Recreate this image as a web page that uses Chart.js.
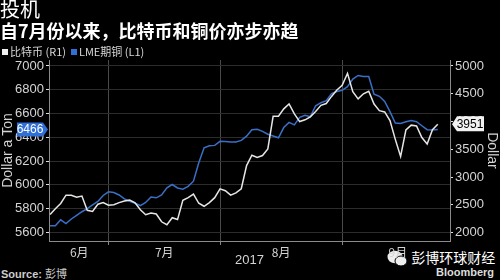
<!DOCTYPE html>
<html>
<head>
<meta charset="utf-8">
<script src="https://cdn.jsdelivr.net/npm/chart.js@4.4.0/dist/chart.umd.min.js"></script>
<style>
  html, body { margin: 0; padding: 0; background: #000; }
  #wrap { position: relative; width: 500px; height: 280px; overflow: hidden; background: #000; color: #fff; }
  #wrap canvas { position: absolute; left: 0; top: 0; }
  .cjk { font-family: "Noto Sans CJK SC", sans-serif; }
  .title { position: absolute; left: 0; top: -3px; font-size: 20px; line-height: 24px; }
  .subtitle { position: absolute; left: 0; top: 19px; font-size: 18px; line-height: 22px; font-weight: 700; white-space: nowrap; }
  .legend { position: absolute; left: 2px; top: 43px; font-size: 11px; line-height: 16px; color: #d8d8d8; white-space: nowrap; }
  .legend i { display: inline-block; width: 6px; height: 6px; margin-right: 2px; vertical-align: 1px; }
  .src { position: absolute; left: 1px; top: 265px; font: 11px "Liberation Sans", sans-serif; color: #ccc; }
  .wm { position: absolute; left: 387px; top: 248px; font-size: 14px; line-height: 18px; white-space: nowrap; }
  .bbg { position: absolute; left: 436px; top: 266px; font: bold 11px "Liberation Sans", sans-serif; color: #ddd; }
</style>
</head>
<body>
<div id="wrap">
  <div class="src"><b>Source:</b> <span class="cjk">彭博</span></div>
  <div class="wm cjk">
    <svg width="21" height="17" viewBox="0 0 21 17" style="vertical-align:-4px">
      <ellipse cx="8" cy="7" rx="7.5" ry="6.2" fill="#eee"/>
      <ellipse cx="14" cy="11" rx="6" ry="5" fill="#eee" stroke="#000" stroke-width="1"/>
    </svg> 彭博环球财经
  </div>
  <div class="bbg">Bloomberg <span style="display:inline-block;width:8px;height:8px;background:#bbb;vertical-align:-1px"></span></div>
  <canvas id="chart" width="500" height="280"></canvas>
  <div class="title cjk">投机</div>
  <div class="subtitle cjk">自7月份以来，比特币和铜价亦步亦趋</div>
  <div class="legend cjk"><i style="background:#f0f0f0"></i>比特币 (R1)&nbsp;&nbsp;<i style="background:#2f6fd6"></i>LME期铜 (L1)</div>
</div>
<script>
// trading days, mid-June to late September 2017
const days = Array.from({ length: 74 }, (_, i) => i);

// LME copper, $/t (left axis)
const copper = [
  5657, 5657, 5706, 5675, 5713, 5743, 5774, 5800, 5831, 5861, 5911,
  5942, 5936, 5915, 5882, 5862, 5845, 5826, 5852, 5898, 5891, 5915, 5975, 6003, 5974, 5964, 5988, 6031, 6186, 6312, 6328,
  6332, 6366, 6364, 6361, 6361, 6374, 6410, 6463, 6467, 6450, 6426, 6411, 6396, 6482, 6525, 6505, 6568, 6585, 6572, 6665, 6691, 6708, 6768,
  6785, 6795, 6826, 6889, 6920, 6912, 6912, 6763, 6745, 6702, 6616, 6520, 6516, 6531, 6541, 6531, 6497, 6464, 6462, 6466
];

// Bitcoin, $ (right axis)
const bitcoin = [
  2325, 2428, 2523, 2673, 2671, 2637, 2657, 2400, 2379, 2509, 2539,
  2491, 2502, 2538, 2568, 2583, 2534, 2411, 2321, 2350, 2334, 2193, 2141, 2267, 2233, 2579, 2630, 2693, 2527, 2473, 2538,
  2628, 2787, 2752, 2673, 2713, 2788, 3205, 3393, 3353, 3387, 3506, 4094, 4096, 4228, 4315, 4138, 3999, 4031, 4085, 4179, 4291, 4324, 4452,
  4569, 4654, 4868, 4536, 4407, 4499, 4544, 4315, 4196, 4172, 4015, 3678, 3371, 3849, 3934, 3921, 3712, 3595, 3851, 3951
];

const monthEdges = [11, 32, 55];
const monthCenters = [5.5, 21.5, 43.5, 65.5];
const monthLabels = ['6月', '7月', '8月', '9月'];
const leftTicks = [5600, 5800, 6000, 6200, 6400, 6600, 6800, 7000];
const rightTicks = [2000, 2500, 3000, 3500, 4000, 4500, 5000];

const BLUE = '#3a6fc6';
const WHITE = '#e6e6e6';
const TICK_TXT = '#d4d4d4';
const latin = '"Liberation Sans", Arial, sans-serif';

// last-value tags on both axes
const lastValueTags = {
  id: 'lastValueTags',
  afterDraw(chart) {
    const c = chart.ctx;
    const yl = chart.scales.y, yr = chart.scales.y1;
    const cv = copper[copper.length - 1];
    const bv = bitcoin[bitcoin.length - 1];
    c.save();
    c.font = '12px ' + latin;
    c.textBaseline = 'middle';
    c.textAlign = 'center';

    let y = yl.getPixelForValue(cv);
    c.fillStyle = '#2f6fd6';
    c.beginPath();
    c.moveTo(17, y - 7); c.lineTo(43, y - 7); c.lineTo(48, y);
    c.lineTo(43, y + 7); c.lineTo(17, y + 7); c.closePath();
    c.fill();
    c.fillStyle = '#fff';
    c.fillText(String(cv), 30, y + 0.5);

    y = yr.getPixelForValue(bv);
    c.fillStyle = '#f2f2f2';
    c.beginPath();
    c.moveTo(452, y); c.lineTo(457, y - 8); c.lineTo(484, y - 8);
    c.lineTo(484, y + 7); c.lineTo(457, y + 7); c.closePath();
    c.fill();
    c.fillStyle = '#000';
    c.fillText(String(bv), 470, y + 0.5);
    c.restore();
  }
};

new Chart(document.getElementById('chart'), {
  type: 'line',
  data: {
    datasets: [
      {
        label: '比特币 (R1)',
        data: bitcoin.map((v, i) => ({ x: days[i], y: v })),
        yAxisID: 'y1',
        borderColor: WHITE,
        borderWidth: 1.5,
        pointRadius: 0,
        tension: 0
      },
      {
        label: 'LME期铜 (L1)',
        data: copper.map((v, i) => ({ x: days[i], y: v })),
        yAxisID: 'y',
        borderColor: BLUE,
        borderWidth: 1.5,
        pointRadius: 0,
        tension: 0
      }
    ]
  },
  options: {
    responsive: false,
    animation: false,
    layout: { padding: { top: 60, left: 0, right: 0, bottom: 0 } },
    plugins: { legend: { display: false }, tooltip: { enabled: false } },
    scales: {
      x: {
        type: 'linear',
        min: -0.2,
        max: 75.3,
        afterBuildTicks: s => { s.ticks = [...monthEdges, ...monthCenters].sort((a, b) => a - b).map(v => ({ value: v })); },
        afterFit: s => { s.height = 39; },
        grid: {
          color: ctx => monthEdges.includes(ctx.tick && ctx.tick.value) ? '#4a4a4a' : 'rgba(0,0,0,0)',
          tickColor: ctx => monthEdges.includes(ctx.tick && ctx.tick.value) ? '#888' : 'rgba(0,0,0,0)',
          tickLength: 4
        },
        border: { color: '#8a8a8a' },
        ticks: {
          autoSkip: false,
          maxRotation: 0,
          padding: 0,
          color: TICK_TXT,
          font: { family: '"Noto Sans CJK SC", sans-serif', size: 12 },
          callback: v => { const k = monthCenters.indexOf(v); return k >= 0 ? monthLabels[k] : ''; }
        },
        title: { display: true, text: '2017', color: TICK_TXT, font: { family: latin, size: 13 }, padding: { top: 0, bottom: 12 } }
      },
      y: {
        position: 'left',
        min: 5528,
        max: 7050,
        afterBuildTicks: s => { s.ticks = leftTicks.map(v => ({ value: v })); },
        afterFit: s => { s.width = 49; },
        grid: { color: '#2c2c2c', tickColor: '#e0e0e0', tickLength: 3 },
        border: { color: '#8a8a8a' },
        ticks: { color: TICK_TXT, font: { family: latin, size: 13 }, padding: 2, callback: v => String(v) },
        title: { display: true, text: 'Dollar a Ton', color: TICK_TXT, font: { family: latin, size: 14 }, padding: 0 }
      },
      y1: {
        position: 'right',
        min: 1847,
        max: 5108,
        afterBuildTicks: s => { s.ticks = rightTicks.map(v => ({ value: v })); },
        afterFit: s => { s.width = 50; },
        grid: { drawOnChartArea: false, tickColor: '#e0e0e0', tickLength: 3 },
        border: { color: '#8a8a8a' },
        ticks: { color: TICK_TXT, font: { family: latin, size: 13 }, padding: 2, callback: v => String(v) },
        title: { display: true, text: 'Dollar', color: TICK_TXT, font: { family: latin, size: 14 }, padding: 0 }
      }
    }
  },
  plugins: [lastValueTags]
});
</script>
</body>
</html>
